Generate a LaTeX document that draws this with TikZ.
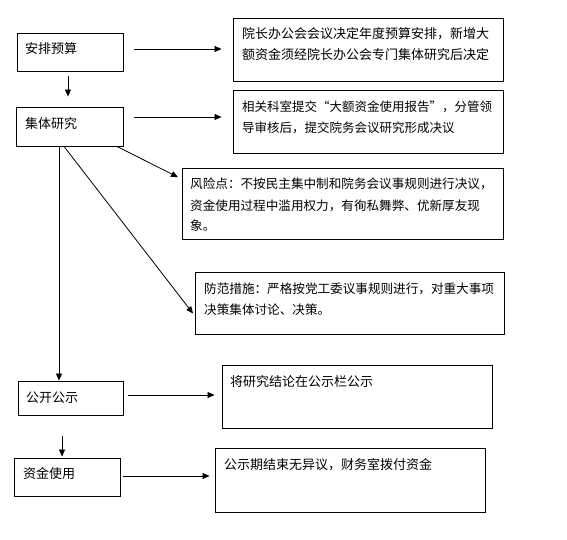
\documentclass[tikz,border=0pt]{standalone}
\usepackage{fontspec}
\newfontfamily\cjk{Noto Sans CJK SC}
\usetikzlibrary{arrows.meta}
\tikzset{
  box/.style={draw=black, line width=0.9pt, rectangle, inner sep=0pt},
  txt/.style={anchor=base west, inner sep=0pt, align=left, text width=#1,
    font=\cjk\fontsize{13}{21}\selectfont},
  txt/.default=320pt,
  stxt/.style={txt=#1, font=\cjk\fontsize{12.6}{21}\selectfont},
  arr/.style={draw=black, line width=0.8pt, -{Triangle[length=7pt,width=6pt]}},
}
\begin{document}
\begin{tikzpicture}[x=1pt,y=-1pt]
\useasboundingbox[fill=white] (0,0) rectangle (567,540);
% left column boxes
\node[box, minimum width=106pt, minimum height=38pt] (a) at (70,52) {};
\node[box, minimum width=107pt, minimum height=39pt] (b) at (69.5,126.5) {};
\node[box, minimum width=105pt, minimum height=34pt] (c) at (70.5,398) {};
\node[box, minimum width=106pt, minimum height=38pt] (d) at (67,477) {};
% right column boxes
\node[box, minimum width=270pt, minimum height=63pt] (A) at (368,49.5) {};
\node[box, minimum width=270pt, minimum height=63pt] (B) at (368,121.5) {};
\node[box, minimum width=321pt, minimum height=71pt] (R) at (342.5,203.5) {};
\node[box, minimum width=309pt, minimum height=62pt] (F) at (349.5,303) {};
\node[box, minimum width=270pt, minimum height=63pt] (C) at (357,396.5) {};
\node[box, minimum width=270pt, minimum height=64pt] (D) at (350,480) {};
% texts
\node[txt=100pt] (ta) at (25,54) {安排预算};
\node[txt=100pt] (tb) at (25,129) {集体研究};
\node[txt=100pt] (tc) at (26,402) {公开公示};
\node[txt=100pt] (td) at (23,478) {资金使用};
\node[txt] (tA) at (242,39) {院长办公会会议决定年度预算安排，新增大\\额资金须经院长办公会专门集体研究后决定};
\node[stxt=320pt, font=\cjk\fontsize{12.5}{21}\selectfont] (tB) at (242,112) {相关科室提交“大额资金使用报告”，分管领\\导审核后，提交院务会议研究形成决议};
\node[stxt=330pt] (tR) at (190,189) {风险点：不按民主集中制和院务会议事规则进行决议，\\资金使用过程中滥用权力，有徇私舞弊、优新厚友现\\象。};
\node[stxt=330pt] (tF) at (204,293) {防范措施：严格按党工委议事规则进行，对重大事项\\决策集体讨论、决策。};
\node[txt] (tC) at (230,386) {将研究结论在公示栏公示};
\node[txt] (tD) at (224,469) {公示期结束无异议，财务室拨付资金};
% connectors
\draw[arr, shorten <=11pt, shorten >=11pt] (a.east |- 0,49) -- (A.west |- 0,49);
\draw[arr, shorten <=5pt, shorten >=10pt] (a.south -| 68,0) -- (b.north -| 68,0);
\draw[arr, shorten <=11pt, shorten >=11pt] (b.east |- 0,117) -- (B.west |- 0,117);
\draw[arr, shorten >=4pt] (b.south -| 117,0) -- (R.west |- 0,179);
\draw[arr, shorten >=2.5pt] (b.south -| 64,0) -- (F.west |- 0,315.5);
\draw[arr] (b.south -| 59,0) -- (c.north -| 59,0);
\draw[arr, shorten <=5pt, shorten >=7pt] (c.east |- 0,395) -- (C.west |- 0,395);
\draw[arr, shorten <=21pt, shorten >=1pt] (c.south -| 62,0) -- (d.north -| 62,0);
\draw[arr, shorten <=3pt, shorten >=5pt] (d.east |- 0,476) -- (D.west |- 0,476);
\end{tikzpicture}
\end{document}
